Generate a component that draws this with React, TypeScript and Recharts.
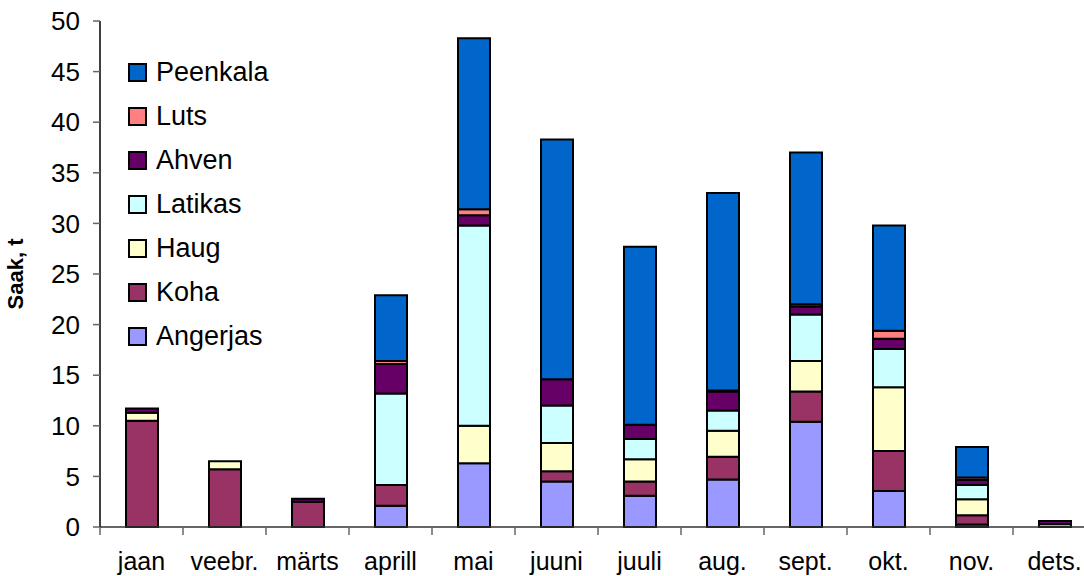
import { BarChart, Bar, XAxis, YAxis } from 'recharts';

const months = ['jaan', 'veebr.', 'märts', 'aprill', 'mai', 'juuni', 'juuli', 'aug.', 'sept.', 'okt.', 'nov.', 'dets.'];
const angerjas = [0, 0, 0, 2.1, 6.3, 4.5, 3.1, 4.7, 10.4, 3.55, 0.25, 0.3];
const koha = [10.5, 5.7, 2.5, 2.05, 0, 1.0, 1.4, 2.25, 3.0, 3.95, 0.9, 0];
const haug = [0.8, 0.8, 0, 0, 3.7, 2.8, 2.2, 2.55, 3.0, 6.3, 1.6, 0];
const latikas = [0, 0, 0, 9.05, 19.8, 3.7, 2.0, 2.0, 4.6, 3.8, 1.4, 0];
const ahven = [0.4, 0, 0.3, 2.9, 1.0, 2.6, 1.4, 1.9, 0.8, 1.0, 0.5, 0.3];
const luts = [0, 0, 0, 0.3, 0.6, 0, 0, 0.1, 0.2, 0.8, 0.25, 0];
const peenkala = [0, 0, 0, 6.5, 16.9, 23.7, 17.6, 19.5, 15.0, 10.4, 3.0, 0];
const yTicks = [0, 5, 10, 15, 20, 25, 30, 35, 40, 45, 50];

const series = [
  { key: 'Angerjas', values: angerjas, color: '#9999FF' },
  { key: 'Koha', values: koha, color: '#993366' },
  { key: 'Haug', values: haug, color: '#FFFFCC' },
  { key: 'Latikas', values: latikas, color: '#CCFFFF' },
  { key: 'Ahven', values: ahven, color: '#660066' },
  { key: 'Luts', values: luts, color: '#FF8080' },
  { key: 'Peenkala', values: peenkala, color: '#0066CC' },
];

const data = months.map((month, i) => {
  const row: any = { month };
  series.forEach((s) => (row[s.key] = s.values[i]));
  return row;
});

const FONT = '"Liberation Sans", Arial, sans-serif';
const CHART_W = 1096;
const LEFT = 100;
const BAND = (CHART_W - LEFT) / months.length;

// month label plus a tick mark on the left category boundary (like Excel)
const MonthTick = ({ x, y, payload }: any) => (
  <g>
    <line x1={x - BAND / 2} y1={y - 8} x2={x - BAND / 2} y2={y} stroke="#666" strokeWidth={1.5} />
    <text x={x} y={y + 35} textAnchor="middle" fontSize={25} fontFamily={FONT} fill="#000">
      {payload.value}
    </text>
  </g>
);

const LegendBox = () => (
  <div style={{ position: 'absolute', left: 128, top: 50, fontFamily: FONT, fontSize: 27, color: '#000' }}>
    {[...series].reverse().map((s) => (
      <div key={s.key} style={{ display: 'flex', alignItems: 'center', height: 44 }}>
        <span style={{ display: 'inline-block', width: 15, height: 15, background: s.color, border: '2px solid #000', marginRight: 9 }} />
        {s.key}
      </div>
    ))}
  </div>
);

export default function App() {
  return (
    <div style={{ position: 'absolute', left: 0, top: 0, width: 1084, height: 576, overflow: 'hidden', background: '#fff' }}>
      <BarChart width={CHART_W} height={576} data={data} margin={{ top: 21, right: 0, bottom: 0, left: 0 }} barSize={32}>
        <XAxis
          dataKey="month"
          height={49}
          tickLine={false}
          axisLine={{ stroke: '#333', strokeWidth: 1.5 }}
          tick={<MonthTick />}
          interval={0}
        />
        <YAxis
          width={LEFT}
          domain={[0, 50]}
          ticks={yTicks}
          interval={0}
          tickSize={7}
          tickMargin={13}
          axisLine={{ stroke: '#000', strokeWidth: 1.5 }}
          tickLine={{ stroke: '#666', strokeWidth: 1.5 }}
          tick={{ fontSize: 26, fontFamily: FONT, fill: '#000' }}
          label={{ value: 'Saak, t', angle: -90, position: 'insideLeft', offset: 15, style: { fontSize: 22, fontWeight: 'bold', fontFamily: FONT, fill: '#000', textAnchor: 'middle' } }}
        />
        {series.map((s) => (
          <Bar
            key={s.key}
            dataKey={s.key}
            stackId="a"
            fill={s.color}
            stroke="#000"
            strokeWidth={2}
            isAnimationActive={false}
          />
        ))}
      </BarChart>
      <LegendBox />
    </div>
  );
}
